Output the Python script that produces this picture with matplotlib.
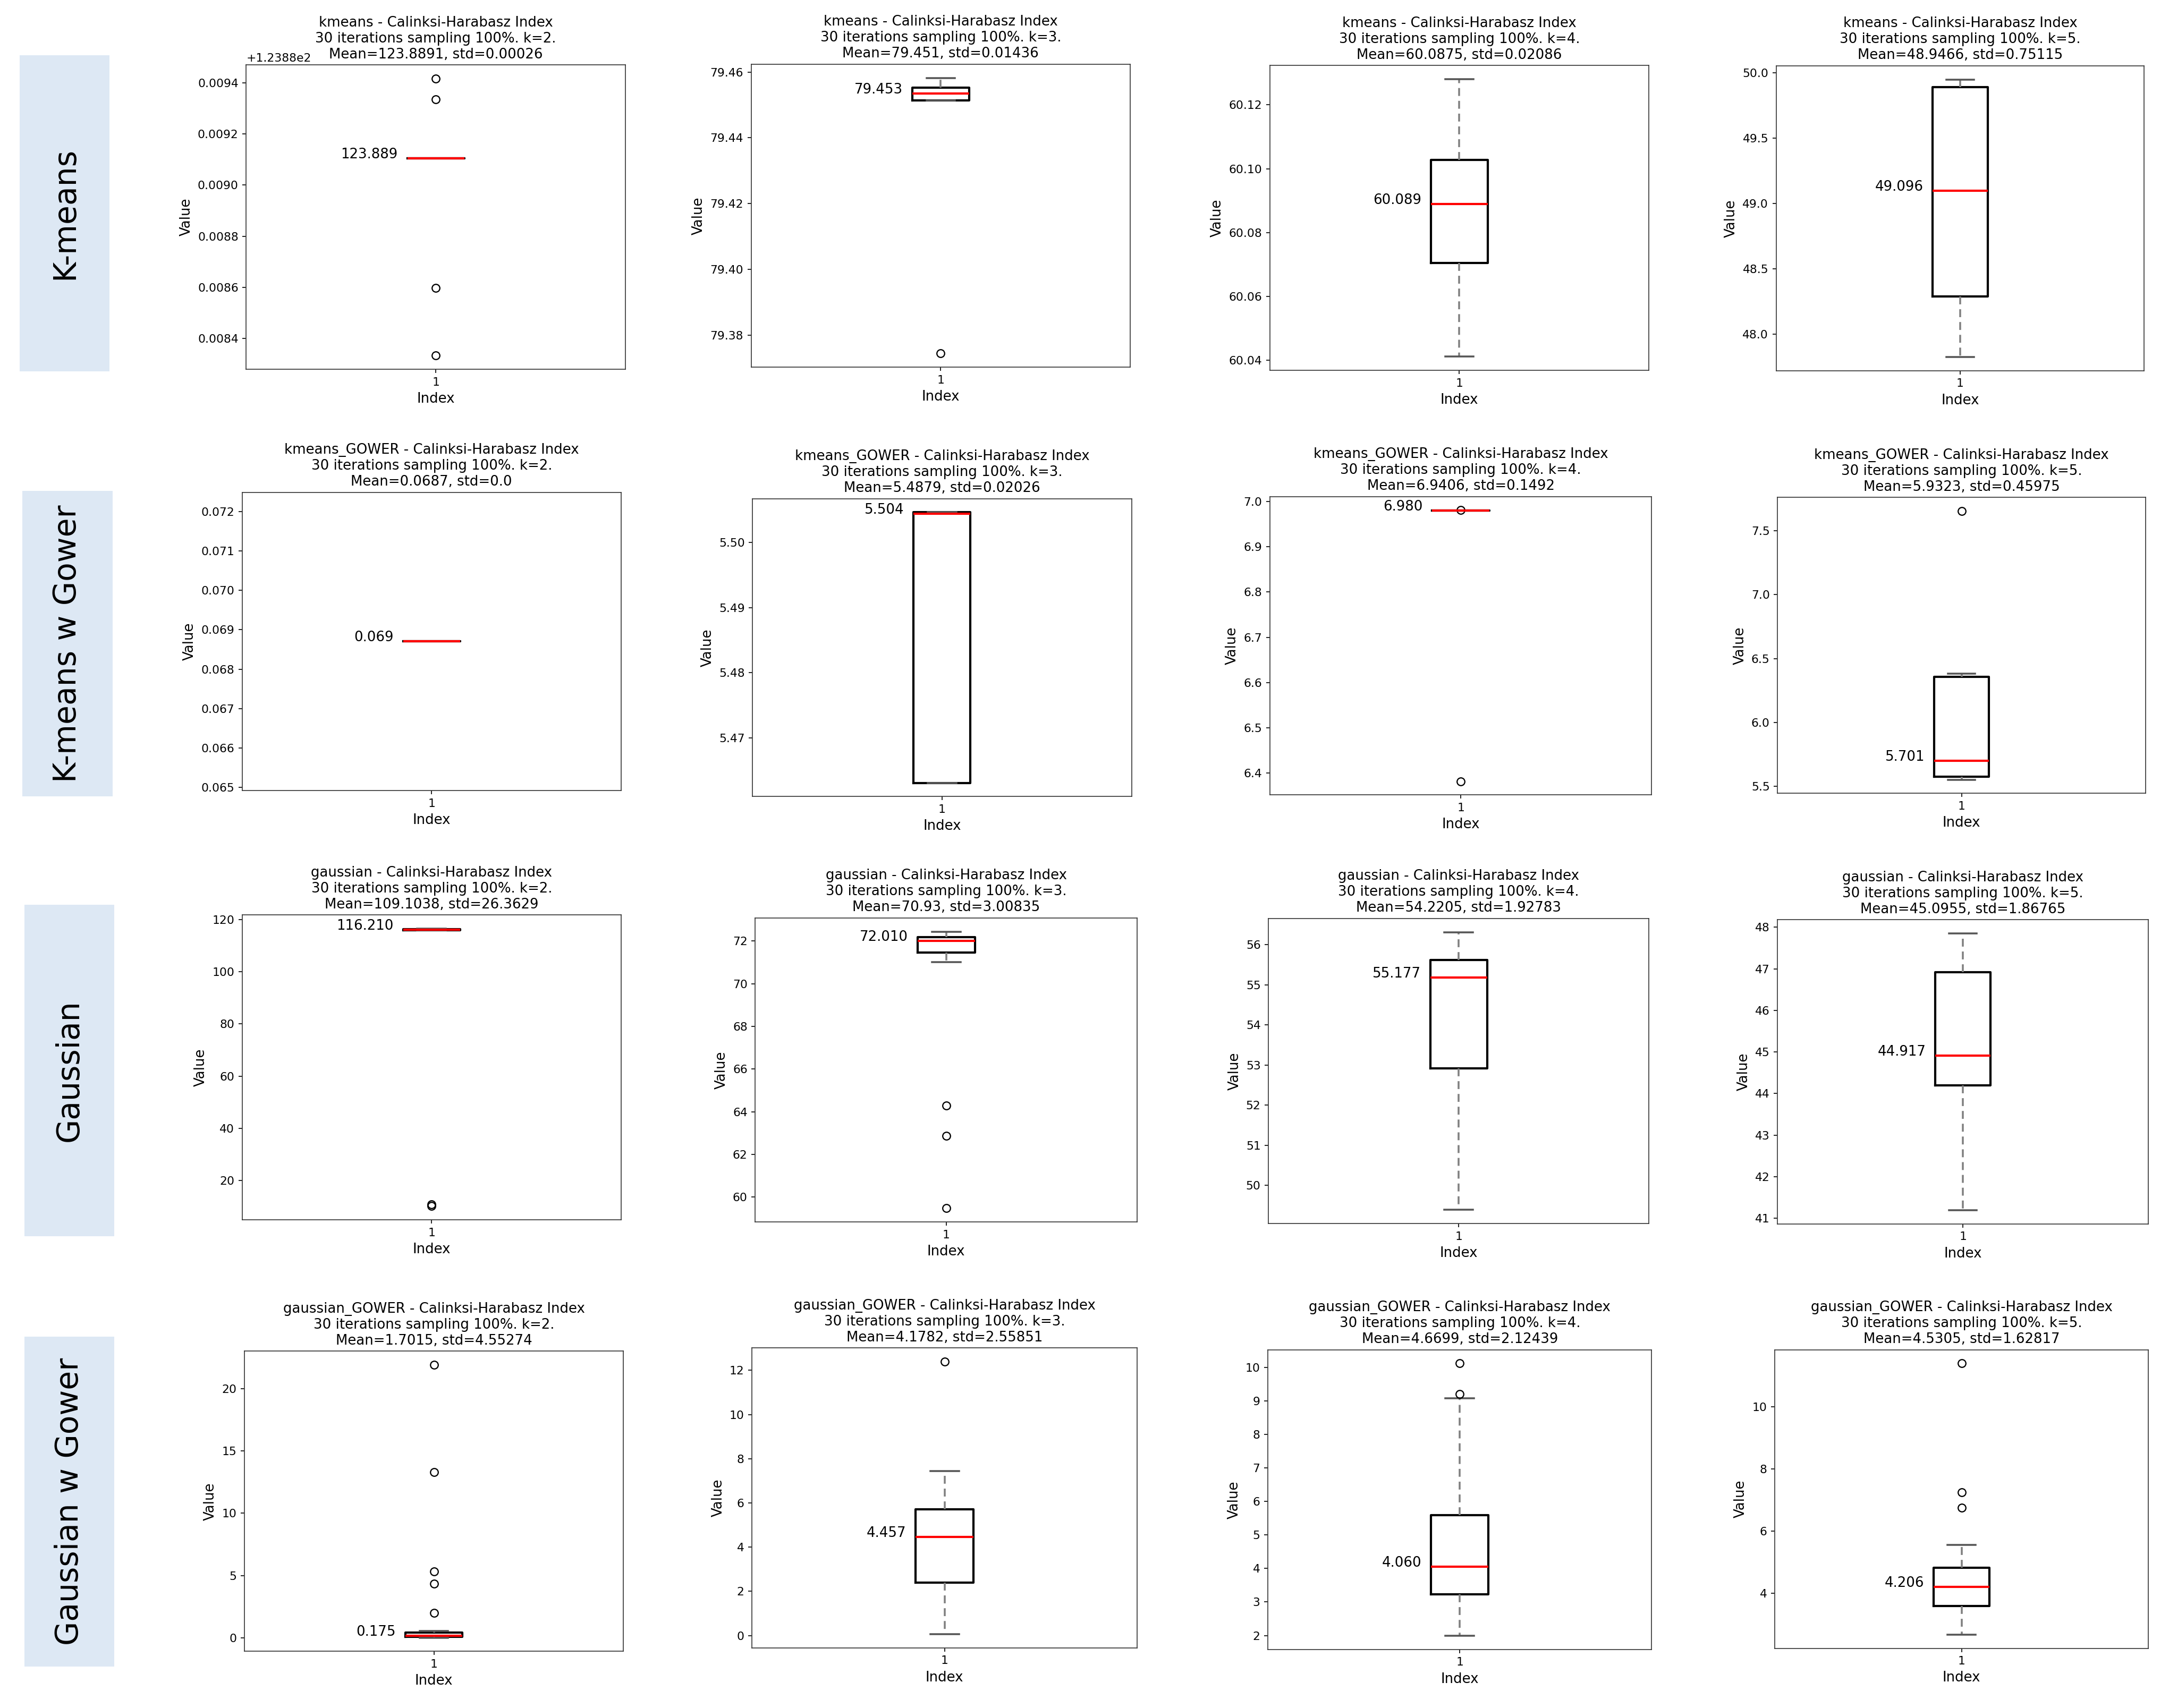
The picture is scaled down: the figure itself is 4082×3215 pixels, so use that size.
import matplotlib
matplotlib.use("Agg")
import matplotlib.pyplot as plt
from matplotlib.patches import Rectangle

# ---------------- data ----------------
ROW_LABELS = ["K-means", "K-means w Gower", "Gaussian", "Gaussian w Gower"]
METHODS = ["kmeans", "kmeans_GOWER", "gaussian", "gaussian_GOWER"]
K_VALUES = [2, 3, 4, 5]

MEAN_TEXT = [
    ["123.8891", "79.451", "60.0875", "48.9466"],
    ["0.0687", "5.4879", "6.9406", "5.9323"],
    ["109.1038", "70.93", "54.2205", "45.0955"],
    ["1.7015", "4.1782", "4.6699", "4.5305"],
]
STD_TEXT = [
    ["0.00026", "0.01436", "0.02086", "0.75115"],
    ["0.0", "0.02026", "0.1492", "0.45975"],
    ["26.3629", "3.00835", "1.92783", "1.86765"],
    ["4.55274", "2.55851", "2.12439", "1.62817"],
]

MEDIANS = [
    [123.889105, 79.4534, 60.0889, 49.0962],
    [0.068703, 5.5044, 6.9801, 5.7012],
    [116.2103, 72.0104, 55.1772, 44.9171],
    [0.1752, 4.4573, 4.0603, 4.2061],
]
Q1 = [
    [123.889105, 79.4513, 60.0705, 48.290],
    [0.068703, 5.4631, 6.9801, 5.578],
    [116.00, 71.47, 52.909, 44.194],
    [0.08, 2.405, 3.228, 3.58],
]
Q3 = [
    [123.889105, 79.4553, 60.1027, 49.888],
    [0.068703, 5.5046, 6.9801, 6.359],
    [116.40, 72.19, 55.622, 46.918],
    [0.40, 5.724, 5.584, 4.8125],
]
WHISKER_LO = [
    [123.889105, 79.4513, 60.0411, 47.828],
    [0.068703, 5.4631, 6.9801, 5.551],
    [115.90, 71.00, 49.393, 41.196],
    [0.01, 0.063, 1.99, 2.66],
]
WHISKER_HI = [
    [123.889105, 79.4582, 60.1280, 49.946],
    [0.068703, 5.5046, 6.9801, 6.384],
    [116.50, 72.44, 56.31, 47.85],
    [0.54, 7.453, 9.069, 5.554],
]
FLIERS = [
    [[123.889415, 123.889334, 123.888597, 123.888334], [79.3745], [], []],
    [[], [], [6.9812, 6.382], [7.655]],
    [[10.2, 10.8], [64.28, 62.86, 59.47], [], []],
    [[21.91, 13.31, 5.33, 4.33, 2.0], [12.40], [10.115, 9.209], [11.402, 7.25, 6.759]],
]

# ---------------- layout (reference frame 1568 x 1235) ----------------
REF_W, REF_H = 1568.0, 1235.0
AX_BOXES = [  # left, right, top, bottom
    [(178, 452, 47, 267), (543, 817, 46.4, 265.5), (918, 1192, 47.4, 267.8), (1284, 1550, 47.6, 268)],
    [(175, 449, 356, 571.6), (544, 818, 360.6, 576), (918, 1194, 359, 574.7), (1285, 1551, 359.7, 573.7)],
    [(175, 449, 661.6, 882), (546, 822, 663.6, 883.7), (917, 1192, 664, 884.7), (1285, 1553, 665, 885)],
    [(176.6, 450.7, 977, 1194), (543.7, 822, 974.6, 1191.5), (916.6, 1194, 976, 1192.7), (1283, 1553, 976, 1191.8)],
]
LABEL_BOXES = [
    (14.3, 79, 40, 268.5),
    (16, 81.5, 355, 576),
    (17.5, 82.5, 654, 894),
    (17.5, 82.5, 966.5, 1205),
]

DPI = 150
fig = plt.figure(figsize=(4082 / DPI, 3215 / DPI), dpi=DPI)
fig.patch.set_facecolor("white")

TICK_FS = 10.5
LABEL_FS = 12.5
TITLE_FS = 12.5

boxprops = dict(color="black", linewidth=2.0)
medianprops = dict(color="red", linewidth=2.0)
whiskerprops = dict(color="gray", linewidth=1.7, linestyle=(0, (4.2, 2.6)))
capprops = dict(color="#555555", linewidth=1.7)
flierprops = dict(marker="o", markerfacecolor="none", markeredgecolor="black",
                  markersize=7, markeredgewidth=1.1, linestyle="none")


def frac_box(b):
    l, r, t, bt = b
    return [l / REF_W, 1 - bt / REF_H, (r - l) / REF_W, (bt - t) / REF_H]


for i in range(4):
    # row label panel
    lb = frac_box(LABEL_BOXES[i])
    fig.patches.append(Rectangle((lb[0], lb[1]), lb[2], lb[3], transform=fig.transFigure,
                                 facecolor="#dde8f4", edgecolor="none", zorder=0))
    fig.text(lb[0] + lb[2] / 2, lb[1] + lb[3] / 2, ROW_LABELS[i], rotation=90,
             ha="center", va="center", fontsize=28, color="black")

    for j in range(4):
        ax = fig.add_axes(frac_box(AX_BOXES[i][j]))
        stats = dict(med=MEDIANS[i][j], q1=Q1[i][j], q3=Q3[i][j],
                     whislo=WHISKER_LO[i][j], whishi=WHISKER_HI[i][j],
                     fliers=FLIERS[i][j], label="1")
        ax.bxp([stats], positions=[1], widths=0.15, boxprops=boxprops,
               medianprops=medianprops, whiskerprops=whiskerprops,
               capprops=capprops, flierprops=flierprops)
        med = MEDIANS[i][j]
        ax.text(0.9, med, f"{med:.3f}", ha="right", va="baseline", fontsize=LABEL_FS)
        ax.set_title(f"{METHODS[i]} - Calinksi-Harabasz Index\n"
                     f"30 iterations sampling 100%. k={K_VALUES[j]}.\n"
                     f"Mean={MEAN_TEXT[i][j]}, std={STD_TEXT[i][j]}",
                     fontsize=TITLE_FS)
        ax.set_xlabel("Index", fontsize=LABEL_FS)
        ax.set_ylabel("Value", fontsize=LABEL_FS)
        ax.tick_params(labelsize=TICK_FS)
        for s in ax.spines.values():
            s.set_color("#333333")
        ax.yaxis.get_offset_text().set_fontsize(TICK_FS)

fig.savefig("out.png", dpi=DPI, facecolor="white")
